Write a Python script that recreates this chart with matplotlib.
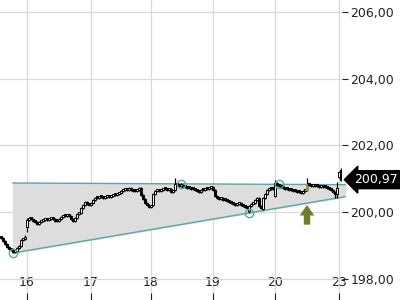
import matplotlib
matplotlib.use("Agg")
import matplotlib.pyplot as plt
import matplotlib.transforms as mtransforms
from matplotlib.ticker import FuncFormatter
import numpy as np

# intraday candles (one per slot)
opens = [199.25, 199.22, 199.13, 199.04, 198.95, 198.89, 198.86, 198.80, 198.83, 198.92,
         198.98, 199.16, 199.19, 199.55, 199.76, 199.82, 199.79, 199.73, 199.70, 199.64,
         199.70, 199.73, 199.76, 199.79, 199.76, 199.79, 199.82, 199.79, 199.73, 199.73,
         199.79, 199.85, 199.88, 199.88, 199.91, 199.88, 199.79, 199.73, 199.82, 199.94,
         199.97, 200.12, 200.21, 200.30, 200.24, 200.21, 200.27, 200.36, 200.42, 200.42,
         200.45, 200.45, 200.42, 200.45, 200.48, 200.45, 200.48, 200.51, 200.51, 200.54,
         200.57, 200.63, 200.66, 200.69, 200.66, 200.72, 200.66, 200.63, 200.63, 200.66,
         200.72, 200.51, 200.39, 200.27, 200.21, 200.15, 200.21, 200.54, 200.63, 200.66,
         200.63, 200.66, 200.69, 200.69, 200.66, 200.69, 200.60, 200.66, 200.84, 200.81,
         200.78, 200.81, 200.75, 200.75, 200.72, 200.72, 200.69, 200.69, 200.66, 200.63,
         200.60, 200.66, 200.66, 200.69, 200.69, 200.72, 200.75, 200.66, 200.48, 200.42,
         200.39, 200.42, 200.36, 200.36, 200.33, 200.30, 200.27, 200.24, 200.21, 200.24,
         200.27, 200.21, 200.18, 200.15, 200.03, 200.18, 200.24, 200.27, 200.36, 200.42,
         200.18, 200.09, 200.42, 200.54, 200.66, 200.69, 200.69, 200.48, 200.87, 200.81,
         200.78, 200.75, 200.72, 200.69, 200.69, 200.66, 200.66, 200.63, 200.63, 200.60,
         200.60, 200.57, 200.63, 200.66, 200.84, 200.81, 200.78, 200.81, 200.78, 200.78,
         200.75, 200.78, 200.75, 200.75, 200.72, 200.69, 200.66, 200.60, 200.54, 201.05,
         201.26]
closes = [199.22, 199.13, 199.04, 198.95, 198.89, 198.86, 198.80, 198.83, 198.92, 198.98,
          199.16, 199.19, 199.25, 199.76, 199.82, 199.79, 199.73, 199.70, 199.64, 199.70,
          199.73, 199.76, 199.79, 199.76, 199.79, 199.82, 199.79, 199.73, 199.73, 199.79,
          199.85, 199.88, 199.88, 199.91, 199.88, 199.79, 199.73, 199.82, 199.94, 199.97,
          200.12, 200.21, 200.30, 200.24, 200.21, 200.27, 200.36, 200.42, 200.42, 200.45,
          200.45, 200.42, 200.45, 200.48, 200.45, 200.48, 200.51, 200.51, 200.54, 200.57,
          200.63, 200.66, 200.69, 200.66, 200.72, 200.66, 200.63, 200.63, 200.66, 200.72,
          200.51, 200.39, 200.27, 200.21, 200.15, 200.18, 200.54, 200.63, 200.66, 200.63,
          200.66, 200.69, 200.69, 200.66, 200.69, 200.60, 200.63, 200.84, 200.81, 200.78,
          200.81, 200.75, 200.75, 200.72, 200.72, 200.69, 200.69, 200.66, 200.63, 200.60,
          200.66, 200.66, 200.69, 200.69, 200.72, 200.75, 200.66, 200.48, 200.42, 200.39,
          200.42, 200.36, 200.36, 200.33, 200.30, 200.27, 200.24, 200.21, 200.24, 200.27,
          200.21, 200.18, 200.15, 200.12, 200.18, 200.24, 200.27, 200.36, 200.42, 200.18,
          200.12, 200.42, 200.54, 200.66, 200.69, 200.69, 200.69, 200.87, 200.81, 200.78,
          200.75, 200.72, 200.69, 200.69, 200.66, 200.66, 200.63, 200.63, 200.60, 200.60,
          200.57, 200.63, 200.66, 200.84, 200.81, 200.78, 200.81, 200.78, 200.78, 200.75,
          200.78, 200.75, 200.75, 200.72, 200.69, 200.66, 200.60, 200.54, 200.72, 201.20,
          200.97]
highs = [199.28, 199.25, 199.15, 199.06, 198.97, 198.91, 198.88, 198.86, 198.94, 199.00,
         199.18, 199.22, 199.30, 199.82, 199.85, 199.84, 199.81, 199.75, 199.72, 199.72,
         199.75, 199.78, 199.81, 199.81, 199.81, 199.84, 199.84, 199.81, 199.75, 199.81,
         199.87, 199.90, 199.90, 199.93, 199.93, 199.90, 199.81, 199.84, 199.96, 199.99,
         200.14, 200.23, 200.33, 200.32, 200.26, 200.29, 200.38, 200.44, 200.44, 200.47,
         200.47, 200.47, 200.47, 200.50, 200.50, 200.50, 200.53, 200.53, 200.56, 200.59,
         200.65, 200.68, 200.71, 200.71, 200.74, 200.74, 200.68, 200.65, 200.68, 200.74,
         200.74, 200.53, 200.41, 200.29, 200.23, 200.20, 200.57, 200.65, 200.68, 200.68,
         200.68, 200.71, 200.71, 200.71, 200.71, 200.71, 200.65, 201.02, 200.86, 200.83,
         200.86, 200.83, 200.77, 200.77, 200.74, 200.74, 200.71, 200.71, 200.68, 200.65,
         200.68, 200.68, 200.71, 200.71, 200.74, 200.77, 200.77, 200.68, 200.50, 200.44,
         200.44, 200.44, 200.38, 200.38, 200.35, 200.32, 200.29, 200.26, 200.26, 200.29,
         200.29, 200.23, 200.20, 200.17, 200.20, 200.26, 200.29, 200.38, 200.45, 200.44,
         200.20, 200.44, 200.56, 200.68, 200.71, 200.71, 200.71, 200.96, 200.89, 200.83,
         200.80, 200.77, 200.74, 200.71, 200.71, 200.68, 200.68, 200.65, 200.65, 200.62,
         200.62, 200.65, 200.68, 201.02, 200.86, 200.83, 200.83, 200.83, 200.80, 200.80,
         200.80, 200.80, 200.77, 200.77, 200.74, 200.71, 200.68, 200.62, 200.90, 201.22,
         201.32]
lows = [199.19, 199.10, 199.01, 198.92, 198.86, 198.83, 198.77, 198.78, 198.81, 198.90,
        198.96, 199.14, 199.17, 199.40, 199.73, 199.76, 199.71, 199.67, 199.60, 199.62,
        199.68, 199.71, 199.74, 199.74, 199.74, 199.77, 199.77, 199.71, 199.71, 199.71,
        199.77, 199.83, 199.86, 199.86, 199.86, 199.77, 199.71, 199.71, 199.80, 199.92,
        199.95, 200.10, 200.19, 200.22, 200.19, 200.19, 200.25, 200.34, 200.40, 200.40,
        200.43, 200.40, 200.40, 200.43, 200.43, 200.43, 200.46, 200.49, 200.49, 200.52,
        200.55, 200.61, 200.64, 200.64, 200.64, 200.64, 200.61, 200.61, 200.61, 200.64,
        200.49, 200.37, 200.25, 200.19, 200.12, 200.12, 200.18, 200.52, 200.61, 200.61,
        200.61, 200.64, 200.67, 200.64, 200.64, 200.58, 200.58, 200.64, 200.79, 200.76,
        200.76, 200.73, 200.73, 200.70, 200.70, 200.67, 200.67, 200.64, 200.61, 200.58,
        200.58, 200.64, 200.64, 200.67, 200.67, 200.70, 200.64, 200.46, 200.40, 200.37,
        200.37, 200.34, 200.34, 200.31, 200.28, 200.25, 200.22, 200.19, 200.19, 200.22,
        200.19, 200.16, 200.13, 200.10, 199.97, 200.16, 200.22, 200.25, 200.34, 200.16,
        200.09, 200.06, 200.40, 200.52, 200.64, 200.67, 200.67, 200.45, 200.79, 200.76,
        200.73, 200.70, 200.67, 200.67, 200.64, 200.64, 200.61, 200.61, 200.58, 200.58,
        200.55, 200.55, 200.61, 200.64, 200.79, 200.76, 200.76, 200.76, 200.76, 200.73,
        200.73, 200.73, 200.73, 200.70, 200.67, 200.64, 200.58, 200.42, 200.42, 201.03,
        200.94]

day_labels = ['16', '17', '18', '19', '20', '23']
day_starts = [13, 45, 75, 106, 137, 169]

# triangle pattern
pivot_x = [6, 90, 124, 139]
pivot_y = [198.77, 200.85, 199.97, 200.83]
upper_x = [6, 172]
upper_y = [200.87, 200.82]
lower_x = [6, 172]
lower_y = [198.77, 200.46]

signal_idx = 153
arrow_top = 200.21
arrow_bottom = 199.62

last_price = closes[-1]

teal = '#5aa7a8'
olive = '#6e7d2c'

fig = plt.figure(figsize=(4, 3), dpi=100)
ax = fig.add_axes([0, 0, 342 / 400, 1])

for s in ax.spines.values():
    s.set_visible(False)

ax.set_xlim(-0.5, 170.5)
ax.set_ylim(197.36, 206.36)
ax.grid(True, color='#d9d9d9', linewidth=0.9)
ax.set_axisbelow(True)

# triangle
ax.fill_between(upper_x, lower_y, upper_y, color='#dddddd', zorder=1, clip_on=False)
ax.plot(upper_x, upper_y, color=teal, lw=1, zorder=2, clip_on=False)
ax.plot(lower_x, lower_y, color=teal, lw=1, zorder=2, clip_on=False)

# candles
x = np.arange(len(closes))
o = np.array(opens)
c = np.array(closes)
ax.vlines(x, lows, highs, color='black', lw=0.9, zorder=3)
bottoms = np.minimum(o, c)
heights = np.maximum(np.abs(c - o), 0.07)
faces = ['white' if cc > oo else 'black' for oo, cc in zip(o, c)]
faces[signal_idx] = '#8d9b4f'
edges = ['black'] * len(c)
edges[signal_idx] = '#8d9b4f'
ax.bar(x, heights, bottom=bottoms, width=1.0, color=faces, edgecolor=edges,
       linewidth=0.7, zorder=4)

# pivots
ax.plot(pivot_x, pivot_y, 'o', ms=6, mfc='none', mec=teal, mew=1, zorder=5)

# signal arrow
ax.annotate('', xy=(signal_idx, arrow_top), xytext=(signal_idx, arrow_bottom),
            arrowprops=dict(arrowstyle='simple,head_length=0.36,head_width=0.5,tail_width=0.22',
                            color=olive, lw=0, mutation_scale=21,
                            shrinkA=0, shrinkB=0), zorder=6)

# axes / ticks
ax.yaxis.tick_right()
ax.set_yticks([198, 200, 202, 204, 206])
ax.yaxis.set_major_formatter(FuncFormatter(lambda v, p: f"{v:.2f}".replace('.', ',')))
ax.tick_params(axis='y', direction='out', length=4, pad=2, labelsize=9,
               colors='#222222')
ax.set_xticks(day_starts)
ax.set_xticklabels(day_labels)
ax.tick_params(axis='x', direction='in', length=5, pad=-17, labelsize=9,
               colors='#222222')

# last price tag
trans = mtransforms.blended_transform_factory(ax.transAxes, ax.transData)
ax.text(1.035, last_price, f"{last_price:.2f}".replace('.', ','), transform=trans,
        color='white', fontsize=9, va='center', ha='left', clip_on=False,
        bbox=dict(boxstyle='larrow,pad=0.2', fc='black', ec='black'))

fig.savefig('out.png', dpi=100)
